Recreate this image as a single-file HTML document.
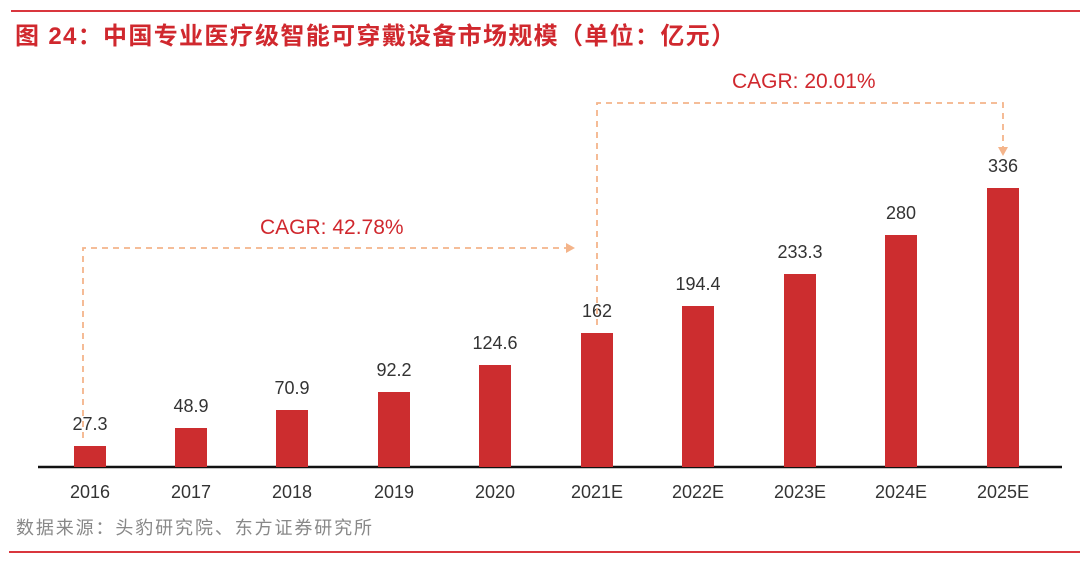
<!DOCTYPE html>
<html><head><meta charset="utf-8"><style>
body{margin:0;background:#fff;}
svg{display:block}
text{font-family:"Liberation Sans","Noto Sans CJK SC",sans-serif;}
</style></head><body>
<svg width="1080" height="561" viewBox="0 0 1080 561" xmlns="http://www.w3.org/2000/svg">
<line x1="11" y1="11" x2="1080" y2="11" stroke="#d9363e" stroke-width="2"/>
<text x="15" y="44" font-size="24" font-weight="bold" fill="#d0282e" textLength="720" lengthAdjust="spacing">图 24：中国专业医疗级智能可穿戴设备市场规模（单位：亿元）</text>
<line x1="38" y1="467" x2="1062" y2="467" stroke="#111" stroke-width="2.5"/>
<g fill="#cc2d2f">
<rect x="74" y="446" width="32" height="21"/>
<rect x="175" y="428" width="32" height="39"/>
<rect x="276" y="410" width="32" height="57"/>
<rect x="378" y="392" width="32" height="75"/>
<rect x="479" y="365" width="32" height="102"/>
<rect x="581" y="333" width="32" height="134"/>
<rect x="682" y="306" width="32" height="161"/>
<rect x="784" y="274" width="32" height="193"/>
<rect x="885" y="235" width="32" height="232"/>
<rect x="987" y="188" width="32" height="279"/>
</g>
<g font-size="18" fill="#333" text-anchor="middle">
<text x="90" y="430">27.3</text><text x="191" y="412">48.9</text><text x="292" y="394">70.9</text>
<text x="394" y="376">92.2</text><text x="495" y="349">124.6</text><text x="597" y="317">162</text>
<text x="698" y="290">194.4</text><text x="800" y="258">233.3</text><text x="901" y="219">280</text>
<text x="1003" y="172">336</text>
<text x="90" y="498">2016</text><text x="191" y="498">2017</text><text x="292" y="498">2018</text>
<text x="394" y="498">2019</text><text x="495" y="498">2020</text><text x="597" y="498">2021E</text>
<text x="698" y="498">2022E</text><text x="800" y="498">2023E</text><text x="901" y="498">2024E</text>
<text x="1003" y="498">2025E</text>
</g>
<g fill="none" stroke="#f4b48a" stroke-width="1.8" stroke-dasharray="6,5">
<polyline points="83,438 83,248 566,248"/>
<polyline points="597,325 597,103 1003,103 1003,148"/>
</g>
<polygon points="566,243 575,248 566,253" fill="#f4b48a"/>
<polygon points="998,147 1003,156 1008,147" fill="#f4b48a"/>
<text x="260" y="234" font-size="21" fill="#d0282e">CAGR: 42.78%</text>
<text x="732" y="88" font-size="21" fill="#d0282e">CAGR: 20.01%</text>
<text x="16" y="534" font-size="18" fill="#888" textLength="356" lengthAdjust="spacing">数据来源：头豹研究院、东方证券研究所</text>
<line x1="9" y1="552" x2="1080" y2="552" stroke="#d9363e" stroke-width="2"/>
</svg>
</body></html>
